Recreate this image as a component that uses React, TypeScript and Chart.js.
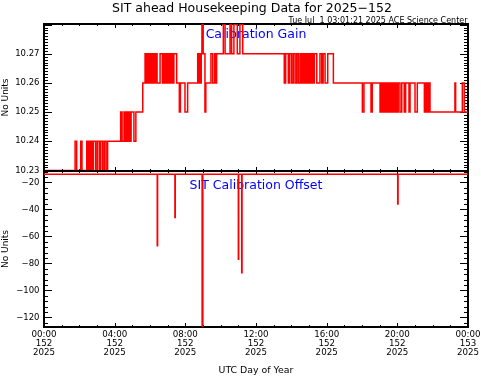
import React, { useEffect, useRef } from "react";
import { Chart, registerables } from "chart.js";

Chart.register(...registerables);

const W = 481;
const H = 376;
const FONT = "'DejaVu Sans', sans-serif";

const TITLE = "SIT ahead Housekeeping Data for 2025\u2212152";
const STAMP = "Tue Jul  1 03:01:21 2025 ACE Science Center";
const GAIN_LABEL = "Calibration Gain";
const OFFSET_LABEL = "SIT Calibration Offset";
const Y_TITLE = "No Units";
const X_TITLE = "UTC Day of Year";

const hourTicks = [0, 4, 8, 12, 16, 20, 24];
const hourTickLabels = [
  ["00:00", "152", "2025"],
  ["04:00", "152", "2025"],
  ["08:00", "152", "2025"],
  ["12:00", "152", "2025"],
  ["16:00", "152", "2025"],
  ["20:00", "152", "2025"],
  ["00:00", "153", "2025"],
];
const gainTicks = [10.23, 10.24, 10.25, 10.26, 10.27];
const gainTickLabels = ["10.23", "10.24", "10.25", "10.26", "10.27"];
const offsetTicks = [-120, -100, -80, -60, -40, -20];
const offsetTickLabels = ["\u2212120", "\u2212100", "\u221280", "\u221260", "\u221240", "\u221220"];

// Calibration gain (UTC hours, value) – stepped
const gainTimes = [
  0.0, 1.76, 1.85, 2.08, 2.15, 2.42, 2.47, 2.52, 2.57, 2.62, 2.67, 2.72, 2.76, 2.8,
  2.93, 3.02, 3.13, 3.21, 3.32, 3.41, 3.51, 3.6,
  4.34, 4.42, 4.53, 4.58, 4.63, 4.68, 4.73, 4.78, 4.83, 4.88, 4.93, 5.09, 5.2,
  5.59, 5.72, 5.77, 5.82, 5.87, 5.92, 5.97, 6.02, 6.07, 6.12, 6.17, 6.22, 6.28,
  6.34, 6.4, 6.57, 6.7, 6.75, 6.8, 6.85, 6.9, 6.95, 7.0, 7.05, 7.1, 7.15, 7.2, 7.25, 7.3, 7.35, 7.51,
  7.66, 7.72, 7.98, 8.13, 8.7, 8.75, 8.8, 8.85, 8.9, 8.94, 9.01, 9.11, 9.16,
  9.45, 9.55, 9.66, 9.72, 9.77, 10.15, 10.25, 10.53, 10.62, 10.75, 10.94, 11.09, 11.25,
  13.6, 13.68, 13.83, 13.91, 14.02, 14.11, 14.21, 14.3, 14.39, 14.49,
  14.54, 14.59, 14.64, 14.69, 14.73, 14.81, 14.86, 14.91, 14.96, 15.01, 15.06, 15.11, 15.16, 15.21, 15.26, 15.3,
  15.44, 15.62, 15.72, 15.8, 15.91, 16.06, 16.38,
  18.02, 18.11, 18.51, 18.58,
  19.02, 19.07, 19.12, 19.17, 19.22, 19.27, 19.32, 19.37, 19.42, 19.47, 19.52, 19.57, 19.62, 19.67,
  19.72, 19.77, 19.82, 19.87, 19.92, 19.97, 20.02, 20.05,
  20.15, 20.25, 20.39, 20.47, 20.66, 20.72, 21.0, 21.13,
  21.53, 21.58, 21.63, 21.68, 21.73, 21.78, 21.85,
  23.26, 23.3, 23.68, 23.79, 24.0,
];
const gainValues = [
  10.23, 10.24, 10.23, 10.24, 10.23, 10.24, 10.23, 10.24, 10.23, 10.24, 10.23, 10.24, 10.23, 10.24,
  10.23, 10.24, 10.23, 10.24, 10.23, 10.24, 10.23, 10.24,
  10.25, 10.24, 10.25, 10.24, 10.25, 10.24, 10.25, 10.24, 10.25, 10.24, 10.25, 10.24, 10.25,
  10.26, 10.27, 10.26, 10.27, 10.26, 10.27, 10.26, 10.27, 10.26, 10.27, 10.26, 10.27, 10.26,
  10.27, 10.26, 10.27, 10.26, 10.27, 10.26, 10.27, 10.26, 10.27, 10.26, 10.27, 10.26, 10.27, 10.26, 10.27, 10.26, 10.27, 10.26,
  10.25, 10.26, 10.25, 10.26, 10.27, 10.26, 10.27, 10.26, 10.27, 10.28, 10.27, 10.25, 10.26,
  10.27, 10.26, 10.27, 10.26, 10.27, 10.28, 10.27, 10.28, 10.27, 10.28, 10.27, 10.28, 10.27,
  10.26, 10.27, 10.26, 10.27, 10.26, 10.27, 10.26, 10.27, 10.26, 10.27,
  10.26, 10.27, 10.26, 10.27, 10.26, 10.27, 10.26, 10.27, 10.26, 10.27, 10.26, 10.27, 10.26, 10.27, 10.26, 10.27,
  10.26, 10.27, 10.26, 10.27, 10.26, 10.27, 10.26,
  10.25, 10.26, 10.25, 10.26,
  10.25, 10.26, 10.25, 10.26, 10.25, 10.26, 10.25, 10.26, 10.25, 10.26, 10.25, 10.26, 10.25, 10.26,
  10.25, 10.26, 10.25, 10.26, 10.25, 10.26, 10.25, 10.26,
  10.25, 10.26, 10.25, 10.26, 10.25, 10.26, 10.25, 10.26,
  10.25, 10.26, 10.25, 10.26, 10.25, 10.26, 10.25,
  10.26, 10.25, 10.26, 10.25, 10.25,
];

// Calibration offset (UTC hours, value) – stepped
const offsetTimes = [0.0, 6.41, 6.43, 7.41, 7.43, 8.95, 8.99, 11.0, 11.02, 11.19, 11.21, 20.02, 20.04, 24.0];
const offsetValues = [-14, -67, -14, -46, -14, -127, -14, -77, -14, -87, -14, -36, -14, -14];

type FrameCfg = {
  xMinor: number;
  xMajorEvery: number;
  yMinor: number;
  yMajorEvery: number;
  label: string;
  labelDy: number;
  header?: boolean;
};

function makeFramePlugin(cfg: FrameCfg) {
  return {
    id: "idlFrame",
    beforeDatasetsDraw(chart: any) {
      const { ctx, chartArea: a } = chart;
      const xs = chart.scales.x;
      const ys = chart.scales.y;
      ctx.save();
      ctx.strokeStyle = "#000";
      ctx.lineWidth = 1;
      ctx.beginPath();
      const i0 = Math.ceil(xs.min / cfg.xMinor - 1e-6);
      const i1 = Math.floor(xs.max / cfg.xMinor + 1e-6);
      for (let i = i0; i <= i1; i++) {
        const major = i % cfg.xMajorEvery === 0;
        const len = major ? 4 : 2;
        const px = Math.round(xs.getPixelForValue(i * cfg.xMinor)) + 0.5;
        ctx.moveTo(px, a.bottom);
        ctx.lineTo(px, a.bottom - len);
        ctx.moveTo(px, a.top);
        ctx.lineTo(px, a.top + len);
      }
      const j0 = Math.ceil(ys.min / cfg.yMinor - 1e-6);
      const j1 = Math.floor(ys.max / cfg.yMinor + 1e-6);
      for (let j = j0; j <= j1; j++) {
        const major = j % cfg.yMajorEvery === 0;
        const len = major ? 8 : 4;
        const py = Math.round(ys.getPixelForValue(j * cfg.yMinor)) + 0.5;
        ctx.moveTo(a.left, py);
        ctx.lineTo(a.left + len, py);
        ctx.moveTo(a.right, py);
        ctx.lineTo(a.right - len, py);
      }
      ctx.stroke();
      ctx.lineWidth = 2;
      ctx.strokeRect(a.left, a.top, a.right - a.left, a.bottom - a.top);

      ctx.fillStyle = "#0000ff";
      ctx.font = `12.5px ${FONT}`;
      ctx.textAlign = "center";
      ctx.textBaseline = "alphabetic";
      ctx.fillText(cfg.label, (a.left + a.right) / 2, a.top + cfg.labelDy);

      if (cfg.header) {
        ctx.fillStyle = "#000";
        ctx.font = `12.5px ${FONT}`;
        ctx.textAlign = "center";
        ctx.fillText(TITLE, 252, 11.5);
        ctx.font = `8px ${FONT}`;
        ctx.textAlign = "right";
        ctx.fillText(STAMP, 467.5, 22.7);
      }
      ctx.restore();
    },
  };
}

function yAxis(min: number, max: number, ticks: number[], labels: string[]) {
  return {
    type: "linear" as const,
    min,
    max,
    afterFit: (s: any) => {
      s.width = 44;
    },
    afterBuildTicks: (s: any) => {
      s.ticks = ticks.map((v) => ({ value: v }));
    },
    ticks: {
      color: "#000",
      font: { family: FONT, size: 8.5 },
      padding: 4.5,
      callback: (v: any) => {
        const i = ticks.findIndex((t) => Math.abs(t - Number(v)) < 1e-6);
        return i >= 0 ? labels[i] : "";
      },
    },
    grid: { display: false, drawTicks: false },
    border: { display: false },
    title: {
      display: true,
      text: Y_TITLE,
      color: "#000",
      font: { family: FONT, size: 9 },
      padding: 0,
    },
  };
}

export default function App() {
  const topRef = useRef<HTMLCanvasElement>(null);
  const botRef = useRef<HTMLCanvasElement>(null);

  useEffect(() => {
    const lineDs = (times: number[], values: number[]) => ({
      data: times.map((t, i) => ({ x: t, y: values[i] })),
      stepped: true,
      borderColor: "#ff0000",
      borderWidth: 1.5,
      pointRadius: 0,
      fill: false,
      tension: 0,
    });

    const top = new Chart(topRef.current!, {
      type: "line",
      data: { datasets: [lineDs(gainTimes, gainValues) as any] },
      options: {
        animation: false,
        responsive: false,
        devicePixelRatio: 1,
        events: [],
        layout: { padding: { top: 24, bottom: 205, left: 0, right: 13 } },
        plugins: { legend: { display: false }, tooltip: { enabled: false } },
        scales: {
          x: { type: "linear", min: 0, max: 24, display: false },
          y: yAxis(10.2298, 10.2802, gainTicks, gainTickLabels) as any,
        },
      },
      plugins: [
        makeFramePlugin({
          xMinor: 1,
          xMajorEvery: 4,
          yMinor: 0.001,
          yMajorEvery: 10,
          label: GAIN_LABEL,
          labelDy: 14.3,
          header: true,
        }) as any,
      ],
    });

    const bot = new Chart(botRef.current!, {
      type: "line",
      data: { datasets: [lineDs(offsetTimes, offsetValues) as any] },
      options: {
        animation: false,
        responsive: false,
        devicePixelRatio: 1,
        events: [],
        layout: { padding: { top: 171, bottom: 0, left: 0, right: 13 } },
        plugins: { legend: { display: false }, tooltip: { enabled: false } },
        scales: {
          x: {
            type: "linear",
            min: 0,
            max: 24,
            afterBuildTicks: (s: any) => {
              s.ticks = hourTicks.map((v) => ({ value: v }));
            },
            afterFit: (s: any) => {
              s.height = 49;
              s.paddingLeft = 0;
              s.paddingRight = 0;
            },
            ticks: {
              autoSkip: false,
              maxRotation: 0,
              minRotation: 0,
              color: "#000",
              font: { family: FONT, size: 8.7, lineHeight: 1 },
              padding: 3.6,
              callback: (v: any) => {
                const i = hourTicks.findIndex((t) => Math.abs(t - Number(v)) < 1e-6);
                return i >= 0 ? hourTickLabels[i] : "";
              },
            },
            grid: { display: false, drawTicks: false },
            border: { display: false },
            title: {
              display: true,
              text: X_TITLE,
              color: "#000",
              font: { family: FONT, size: 9.4 },
              padding: 0,
            },
          } as any,
          y: yAxis(-127.1, -11.6, offsetTicks, offsetTickLabels) as any,
        },
      },
      plugins: [
        makeFramePlugin({
          xMinor: 1,
          xMajorEvery: 4,
          yMinor: 4,
          yMajorEvery: 5,
          label: OFFSET_LABEL,
          labelDy: 18.3,
        }) as any,
      ],
    });

    return () => {
      top.destroy();
      bot.destroy();
    };
  }, []);

  const cs: React.CSSProperties = { position: "absolute", left: 0, top: 0, width: W, height: H };
  return (
    <div style={{ position: "absolute", left: 0, top: 0, width: W, height: H, background: "#fff" }}>
      <canvas ref={topRef} width={W} height={H} style={cs} />
      <canvas ref={botRef} width={W} height={H} style={cs} />
    </div>
  );
}
